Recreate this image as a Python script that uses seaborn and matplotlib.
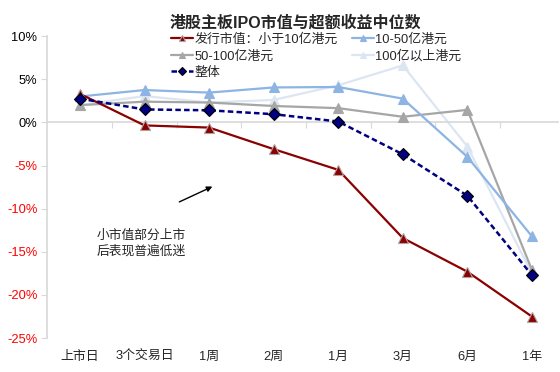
import matplotlib
matplotlib.use("Agg")
import matplotlib.pyplot as plt
import seaborn as sns
import numpy as np
import pandas as pd

categories = ["上市日", "3个交易日", "1周", "2周", "1月", "3月", "6月", "1年"]
small_cap = [3.3, -0.35, -0.6, -3.1, -5.5, -13.4, -17.3, -22.5]
cap_10_50 = [3.0, 3.75, 3.45, 4.05, 4.1, 2.75, -4.0, -13.2]
cap_50_100 = [2.0, 2.4, 2.3, 1.9, 1.65, 0.65, 1.45, -17.1]
cap_100_plus = [2.0, 3.05, 2.3, 2.6, 4.3, 6.6, -2.8, -17.5]
overall = [2.75, 1.5, 1.4, 0.95, 0.1, -3.7, -8.5, -17.7]

names = ["发行市值：小于10亿港元", "10-50亿港元", "50-100亿港元", "100亿以上港元", "整体"]
yticks = [-25, -20, -15, -10, -5, 0, 5, 10]

sns.set_theme(style="white")
plt.rcParams['font.family'] = ['Liberation Sans', 'Noto Sans CJK SC', 'DejaVu Sans']
plt.rcParams['axes.unicode_minus'] = False

fig = plt.figure(figsize=(5.6, 3.72), dpi=100)
ax = fig.add_axes([0.084, 0.091, 0.912, 0.812])

x = np.arange(len(categories))
styles = [
    (cap_100_plus, names[3], "#DCE6F2", "^", "#DCE6F2", 2),
    (cap_50_100, names[2], "#A6A6A6", "^", "#A6A6A6", 3),
    (cap_10_50, names[1], "#8DB4E2", "^", "#8DB4E2", 4),
    (small_cap, names[0], "#8B0000", "^", "#B0A0A0", 5),
]
handles = {}
for vals, name, col, mk, mec, z in styles:
    sns.lineplot(x=x, y=vals, ax=ax, color=col, marker=mk, markersize=6.5,
                 markeredgecolor=mec, markeredgewidth=0.8, linewidth=1.6,
                 label=name, zorder=z)
    handles[name] = ax.lines[-1]
sns.lineplot(x=x, y=overall, ax=ax, color="#000080", marker="D", markersize=6,
             markeredgecolor="black", markeredgewidth=0.8, linewidth=1.8,
             label=names[4], zorder=6)
ln = ax.lines[-1]
ln.set_dashes([2.2, 1.3])
handles[names[4]] = ln

ax.set_xlim(-0.51, 7.4)
ax.set_ylim(-25, 10)
ax.set_yticks(yticks)
ax.set_yticklabels([f"{v}%" for v in yticks])
for lab, v in zip(ax.get_yticklabels(), yticks):
    lab.set_color("red" if v < 0 else "black")
ax.tick_params(axis='y', length=4, width=0.8, color="#D9D9D9", pad=3, labelsize=9.3, left=True)

for s in ["top", "right"]:
    ax.spines[s].set_visible(False)
ax.spines["left"].set_color("#D9D9D9")
ax.spines["bottom"].set_color("#D9D9D9")
ax.spines["bottom"].set_position(("data", 0))
ax.set_xticks(np.arange(0.5, 7, 1))
ax.set_xticklabels([])
ax.tick_params(axis='x', length=4, width=0.8, color="#D9D9D9", bottom=True, direction='out')

sec = ax.secondary_xaxis('bottom')
sec.set_xticks(x)
sec.set_xticklabels(categories)
sec.tick_params(length=0, pad=9, labelsize=9.3)
sec.spines['bottom'].set_visible(False)

ax.set_xlabel("")
ax.set_ylabel("")
ax.grid(False)

order = [names[0], names[2], names[4], names[1], names[3]]
ax.legend([handles[n] for n in order], order, ncol=2, loc='upper left',
          bbox_to_anchor=(0.306, 0.91), bbox_transform=fig.transFigure,
          frameon=False, fontsize=9.3, handlelength=1.7, handletextpad=0.1,
          columnspacing=1.1, labelspacing=0.32, borderpad=0, borderaxespad=0,
          markerscale=0.75)

fig.text(0.527, 0.94, "港股主板IPO市值与超额收益中位数", ha='center', va='center',
         fontsize=11.5, fontweight='bold')

ax.annotate("", xy=(2.09, -7.3), xytext=(1.5, -9.35),
            arrowprops=dict(arrowstyle='-|>', lw=1, color='black', mutation_scale=8))
ax.text(0.26, -14.0, "小市值部分上市\n后表现普遍低迷", ha='left', va='center',
        fontsize=9.2, linespacing=1.35)

fig.savefig("out.png", dpi=100)
